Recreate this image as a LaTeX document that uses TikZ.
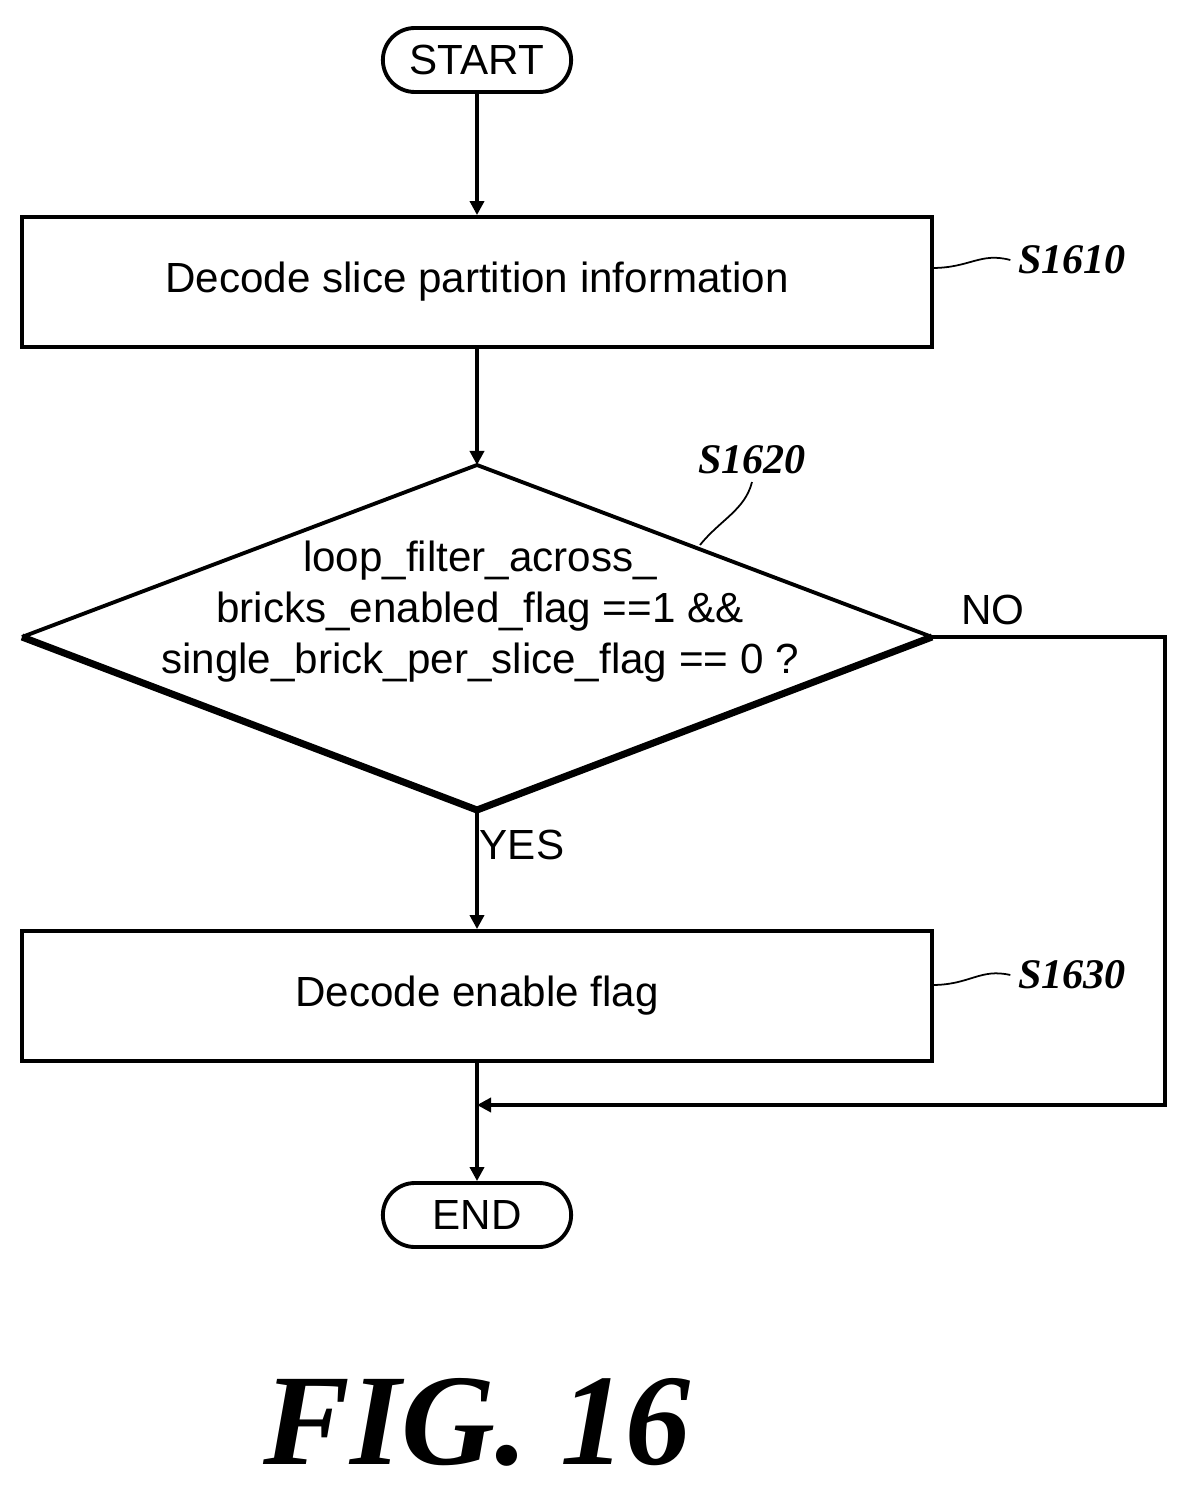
\documentclass[tikz,border=0pt]{standalone}
\usepackage{fontspec}
\setmainfont{Liberation Sans}
\newfontfamily\serifit{Liberation Serif}
\usetikzlibrary{arrows.meta,shapes.misc}
\begin{document}
\begin{tikzpicture}[x=0.02cm,y=-0.02cm,
  line width=2.2pt,
  every node/.style={font=\fontsize{24}{29}\selectfont},
  term/.style={draw,rounded rectangle,minimum width=4cm,minimum height=1.28cm},
  proc/.style={draw,rectangle,minimum width=18.2cm,minimum height=2.6cm},
  lab/.style={font=\fontsize{24}{28}\selectfont\serifit\bfseries\itshape},
  arr/.style={-{Triangle[length=8pt,width=8pt]}}]
\useasboundingbox (0,0) rectangle (1191,1500);
\node[term] (start) at (477,60) {START};
\node[proc] (b1) at (477,282) {Decode slice partition information};
\coordinate (dt) at (477,465);
\coordinate (dl) at (22,637);
\coordinate (dr) at (932,637);
\coordinate (db) at (477,810);
\draw (dl) -- (dt) -- (dr);
\draw[line width=4pt] (dr) -- (db) -- (dl);
\node[align=center] (dtext) at (480,612) {loop\_filter\_across\_\\bricks\_enabled\_flag ==1 \&\&\\single\_brick\_per\_slice\_flag == 0 ?};
\node[proc] (b2) at (477,996) {Decode enable flag};
\node[term] (end) at (477,1215) {END};
\coordinate (j) at (477,1105);
\coordinate (r1) at (1165,637);
\coordinate (r2) at (1165,1105);
\draw[arr] (start) -- (b1);
\draw[arr] (b1) -- (dt);
\draw[arr] (db) -- (b2);
\draw[arr] (b2) -- (end);
\draw[arr] (dr) -- (r1) -- (r2) -- (j);
\node at (993,610) {NO};
\node at (522,845) {YES};
\node[lab] (l1) at (1072,260) {S1610};
\node[lab] (l2) at (1072,975) {S1630};
\node[lab] (l3) at (752,460) {S1620};
\draw[line width=1pt] (932,268) .. controls (970,268) and (980,252) .. (l1.west);
\draw[line width=1pt] (932,985) .. controls (970,985) and (980,968) .. (l2.west);
\draw[line width=1pt] (700,545) .. controls (720,520) and (745,510) .. (l3.south);
\node[font=\fontsize{74}{80}\selectfont\serifit\bfseries\itshape] (fig) at (477,1422) {FIG. 16};
\end{tikzpicture}
\end{document}
